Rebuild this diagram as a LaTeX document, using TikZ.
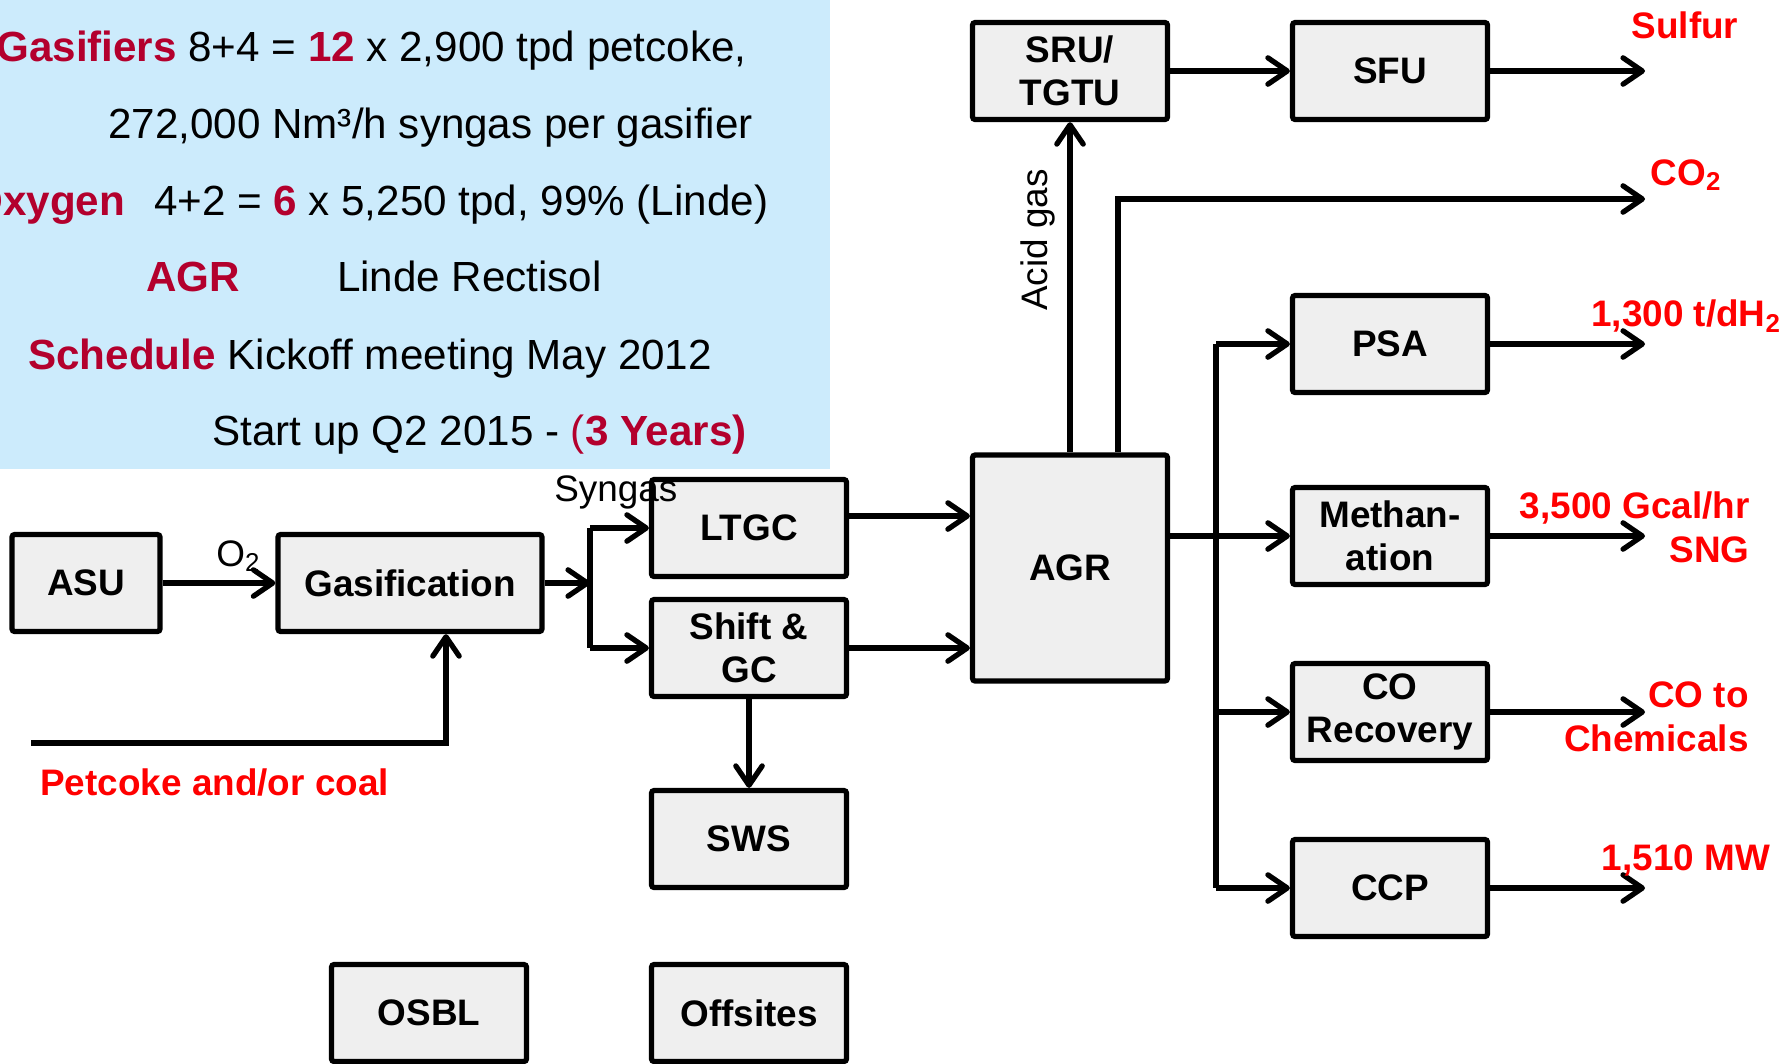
\documentclass[tikz,border=0pt]{standalone}
\usepackage{fontspec}
\setmainfont{Liberation Sans}
\usepackage{xcolor}
\usepackage{tikz}
\usetikzlibrary{arrows.meta}
\definecolor{GSBlue}{HTML}{CCEBFC}
\definecolor{GSRed}{HTML}{FF0000}
\definecolor{GSWine}{HTML}{B3002D}
\definecolor{GSGrey}{HTML}{EFEFEF}

\begin{document}
\begin{tikzpicture}[x=0.02cm,y=-0.02cm,
  unit/.style={draw,fill=GSGrey,line width=3pt,rounded corners=1.5pt,align=center,inner sep=0pt,
    minimum width=3.9cm,minimum height=1.94cm,font=\fontsize{21}{24.7}\selectfont\bfseries},
  pipe/.style={line width=3pt},
  flow/.style={pipe,-{Straight Barb[length=11pt,width=15pt,round]}},
  tag/.style={inner sep=0pt,font=\fontsize{21}{25}\selectfont},
  outlbl/.style={inner sep=0pt,text=GSRed,align=right,font=\fontsize{21}{25}\selectfont\bfseries},
  info/.style={anchor=base west,inner sep=0pt,font=\fontsize{24}{29}\selectfont}]
\path[use as bounding box] (0,0) rectangle (1785,1063);
\fill[GSBlue] (0,0) rectangle (830,469);
\node[info] (gasline) at (-4,61) {\textcolor{GSWine}{\bfseries Gasifiers} 8+4 = \textcolor{GSWine}{\bfseries 12} x 2,900 tpd petcoke,};
\node[info] (syngasline) at (108,138) {272,000 Nm³/h syngas per gasifier};
\node[info] (oxyline) at (-30,215) {\textcolor{GSWine}{\bfseries Oxygen}\hspace{0.58cm}4+2 = \textcolor{GSWine}{\bfseries 6} x 5,250 tpd, 99\% (Linde)};
\node[info] (agrline) at (146,291) {\textcolor{GSWine}{\bfseries AGR}\hspace{1.94cm}Linde Rectisol};
\node[info] (schedline) at (28,369) {\textcolor{GSWine}{\bfseries Schedule} Kickoff meeting May 2012};
\node[info] (startline) at (212,445) {Start up Q2 2015 - \textcolor{GSWine}{(\bfseries 3 Years)}};

\node[unit,minimum width=2.96cm] (asu) at (86,583) {ASU};
\node[unit,minimum width=5.28cm] (gasif) at (410,583) {Gasification};
\node[unit] (ltgc) at (749,528) {LTGC};
\node[unit] (shift) at (749,648) {Shift \&\\GC};
\node[unit] (sws) at (749,839) {SWS};
\node[unit] (osbl) at (429,1013) {OSBL};
\node[unit] (offsites) at (749,1013) {Offsites};
\node[unit,minimum height=4.52cm] (agr) at (1070,568) {AGR};
\node[unit] (sru) at (1070,71) {SRU/\\TGTU};
\node[unit] (sfu) at (1390,71) {SFU};
\node[unit] (psa) at (1390,344) {PSA};
\node[unit] (meth) at (1390,536) {Methan-\\ation};
\node[unit] (corec) at (1390,712) {CO\\Recovery};
\node[unit] (ccp) at (1390,888) {CCP};

\coordinate (bus1) at (590,583);
\coordinate (bus2) at (1216,536);
\coordinate (feed) at (31,743);
\coordinate (outx) at (1645,0);
\coordinate (ltgcout) at ([yshift=0.24cm]ltgc.east);

\draw[flow] (asu) -- (gasif);
\draw[flow] (gasif) -- (bus1);
\draw[pipe] (bus1 |- ltgc) -- (bus1 |- shift);
\draw[flow] (bus1 |- ltgc) -- (ltgc);
\draw[flow] (bus1 |- shift) -- (shift);
\draw[flow] (feed) -| ([xshift=0.72cm]gasif.south);
\draw[flow] (ltgcout) -- (ltgcout -| agr.west);
\draw[flow] (shift) -- (shift -| agr.west);
\draw[flow] (shift) -- (sws);
\draw[flow] (agr) -- (sru);
\draw[flow] ([xshift=0.96cm]agr.north) |- (outx |- 0,199);
\draw[flow] (sru) -- (sfu);
\draw[flow] (agr.east |- meth) -- (meth);
\draw[pipe] (bus2 |- psa) -- (bus2 |- ccp);
\draw[flow] (bus2 |- psa) -- (psa);
\draw[flow] (bus2 |- corec) -- (corec);
\draw[flow] (bus2 |- ccp) -- (ccp);
\draw[flow] (sfu) -- (sfu -| outx);
\draw[flow] (psa) -- (psa -| outx);
\draw[flow] (meth) -- (meth -| outx);
\draw[flow] (corec) -- (corec -| outx);
\draw[flow] (ccp) -- (ccp -| outx);

\node[tag,anchor=base west] (o2lbl) at (216,566) {O\textsubscript{2}};
\node[tag,anchor=base west] (syngaslbl) at (554,501) {Syngas};
\node[tag,rotate=90] (acidlbl) at (1038,240) {Acid gas};
\node[outlbl,anchor=base west] (feedlbl) at (40,795) {Petcoke and/or coal};
\node[outlbl] (sulfurlbl) at (1685,25) {Sulfur};
\node[outlbl] (co2lbl) at (1686,175) {CO\textsubscript{2}};
\node[outlbl] (h2lbl) at (1686,316) {1,300 t/dH\textsubscript{2}};
\node[outlbl,anchor=east] (snglbl) at (1750,527) {3,500 Gcal/hr\\SNG};
\node[outlbl,anchor=east] (chemlbl) at (1749,717) {CO to\\Chemicals};
\node[outlbl] (mwlbl) at (1686,860) {1,510 MW};
\end{tikzpicture}
\end{document}
